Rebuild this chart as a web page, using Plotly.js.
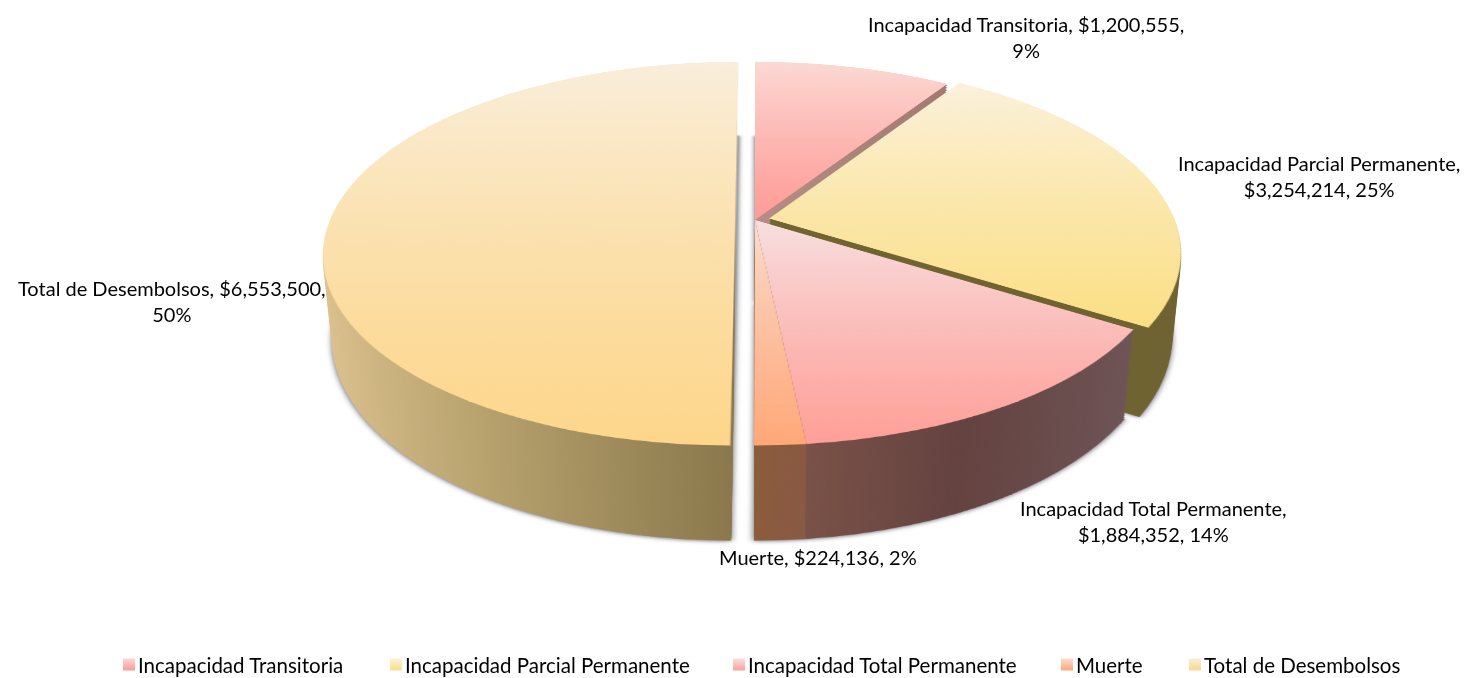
<!DOCTYPE html>
<html>
<head>
<meta charset="utf-8">
<script src="https://cdn.plot.ly/plotly-3.0.1.min.js"></script>
<style>
html,body{margin:0;padding:0;width:1465px;height:678px;overflow:hidden;background:#fff}
#stage{position:absolute;left:0;top:0;width:1465px;height:678px;overflow:hidden}
.disc{position:absolute;left:330px;top:-205px;width:850px;height:850px;transform-origin:50% 50%;pointer-events:none}
#labels{position:absolute;left:0;top:0;width:1465px;height:678px}
#wallClip{position:absolute;left:0;top:0;width:1465px;height:678px;
  clip-path:polygon(0 0,738px 0,732px 600px,754px 600px,754px 0,1465px 0,1465px 678px,0 678px)}
</style>
</head>
<body>
<svg width="0" height="0" style="position:absolute">
<defs id="grads"></defs>
</svg>
<div id="stage">
<div id="walls"></div>
<div id="wallClip"></div>
<div id="top" class="disc"></div>
<div id="labels"></div>
</div>
<script>
var categories = ["Incapacidad Transitoria","Incapacidad Parcial Permanente","Incapacidad Total Permanente","Muerte","Total de Desembolsos"];
var amounts = [1200555,3254214,1884352,224136,6553500];
var percentLabels = ["9%","25%","14%","2%","50%"];
var explode = [0,0.036,0,0,0.048];
var topStart = ["#fbd9d4","#fbf1dc","#f7dfe0","#fadcd0","#f9eedb"];
var topEnd = ["#ff9a96","#fbdf85","#ff9f98","#ffa878","#fdd68a"];
var wallStart = ["#b58d84","#71642f","#80564a","#8c5c3c","#dfc491"];
var wallMid = ["#aa8379","#70632f","#644240","#8a5a40","#b5a06c"];
var wallEnd = ["#a07a70","#6e6232","#6e5456","#875a42","#8a784c"];
var labelLines = [
  ["Incapacidad Transitoria, $1,200,555,","9%"],
  ["Incapacidad Parcial Permanente,","$3,254,214, 25%"],
  ["Incapacidad Total Permanente,","$1,884,352, 14%"],
  ["Muerte, $224,136, 2%"],
  ["Total de Desembolsos, $6,553,500,","50%"]
];
var labelCenters = [[1026,38],[1319,179],[1153,529],[818,565],[172,305]];
var legendTextX = [138,405,748,1076,1204];
var legendColors = ["#fdb4b0","#fbe8a8","#fdb8b4","#fdc09a","#fbe0a8"];

var FONT = "Lato, Carlito, Calibri, sans-serif";
var PERSP = 2057, TILT = 62.7, DEPTH = 96, STEP = 2;
var W = 1465, H = 678;

function grad(id, x2, y2, stops){
  var s = stops.map(function(c,i){ return '<stop offset="'+(i/(stops.length-1))+'" stop-color="'+c+'"/>'; }).join("");
  return '<linearGradient id="'+id+'" x1="0" y1="0" x2="'+x2+'" y2="'+y2+'">'+s+'</linearGradient>';
}
var defs = "";
categories.forEach(function(c,i){
  defs += grad("top"+i,0,1,[topStart[i],topEnd[i]]);
  defs += grad("wall"+i,1,0,[wallStart[i],wallMid[i],wallEnd[i]]);
  defs += grad("leg"+i,0,1,[topStart[i],topEnd[i]]);
});
document.getElementById("grads").innerHTML = defs;

function pieTrace(colors){
  return {type:"pie",labels:categories,values:amounts,sort:false,direction:"clockwise",rotation:0,
    pull:explode,textinfo:"none",hoverinfo:"skip",showlegend:false,
    marker:{colors:colors,line:{width:0}},domain:{x:[0,1],y:[0,1]}};
}
function pieLayout(){
  return {width:850,height:850,margin:{l:0,r:0,t:0,b:0},paper_bgcolor:"rgba(0,0,0,0)",plot_bgcolor:"rgba(0,0,0,0)",showlegend:false};
}
function paint(gd,prefix){
  gd.querySelectorAll(".slice path.surface").forEach(function(p,i){ p.style.fill="url(#"+prefix+i+")"; });
}
function tf(h){ return "perspective("+PERSP+"px) rotateX("+TILT+"deg) translateZ("+(-h)+"px)"; }

var walls = document.getElementById("walls");
var wallClip = document.getElementById("wallClip");
var base = document.createElement("div");
base.className = "disc";
walls.appendChild(base);
var topDiv = document.getElementById("top");
topDiv.style.transform = tf(0);

var labelTraces = categories.map(function(c,i){
  return {type:"scatter",mode:"markers",x:[null],y:[null],name:c,hoverinfo:"skip",
    marker:{symbol:"square",size:12,color:legendColors[i]}};
});
var annotations = labelLines.map(function(lines,i){
  return {xref:"paper",yref:"paper",x:labelCenters[i][0]/W,y:1-labelCenters[i][1]/H,
    text:lines.join("<br>"),showarrow:false,xanchor:"center",yanchor:"middle",align:"center",
    font:{family:FONT,size:20,color:"#000"}};
});
var labelLayout = {width:W,height:H,margin:{l:0,r:0,t:0,b:0},paper_bgcolor:"rgba(0,0,0,0)",plot_bgcolor:"rgba(0,0,0,0)",
  xaxis:{visible:false,range:[0,1]},yaxis:{visible:false,range:[0,1]},annotations:annotations,showlegend:true,
  legend:{orientation:"h",x:0.02,xanchor:"left",y:1-668/H,yanchor:"middle",bgcolor:"rgba(0,0,0,0)",
    font:{family:FONT,size:20.5,color:"#000"},itemwidth:30,itemclick:false,itemdoubleclick:false}};

var cfg = {displayModeBar:false,staticPlot:true};
Promise.all([
  Plotly.newPlot(base,[pieTrace(wallEnd)],pieLayout(),cfg),
  Plotly.newPlot(topDiv,[pieTrace(topEnd)],pieLayout(),cfg),
  Plotly.newPlot("labels",labelTraces,labelLayout,cfg)
]).then(function(){
  paint(base,"wall");
  paint(topDiv,"top");
  base.style.transform = tf(DEPTH);
  for(var h=DEPTH;h>0;h-=STEP){
    var c = base.cloneNode(true);
    c.style.transform = tf(h);
    wallClip.appendChild(c);
  }
  base.querySelectorAll(".slice path.surface").forEach(function(p){ p.style.fill="#a2a2a8"; });
  base.style.filter = "drop-shadow(0 0 3px rgba(60,60,70,0.9))";
  var gd = document.getElementById("labels");
  gd.querySelectorAll(".legend .scrollbox").forEach(function(s){ s.removeAttribute("clip-path"); s.style.clipPath="none"; });
  gd.querySelectorAll(".legend").forEach(function(s){ s.style.overflow="visible"; });
  gd.querySelectorAll(".legend .traces").forEach(function(t,i){
    var text = t.querySelector("text.legendtext");
    var tr = t.getAttribute("transform") || "";
    var m = /translate\(\s*([-\d.]+)[ ,]+([-\d.]+)/.exec(tr);
    var x0 = m?parseFloat(m[1]):0, y0 = m?parseFloat(m[2]):0;
    var r = text.getBoundingClientRect();
    var dx = legendTextX[i]-r.left;
    var dy = 664.5-(r.top+r.height/2);
    t.setAttribute("transform","translate("+(x0+dx)+","+(y0+dy)+")");
    var pts = t.querySelector(".legendpoints");
    if(pts){
      pts.setAttribute("transform","translate(11,0)");
      var p = pts.querySelector("path.scatterpts");
      if(p) p.style.fill = "url(#leg"+i+")";
    }
  });
});
</script>
</body>
</html>
